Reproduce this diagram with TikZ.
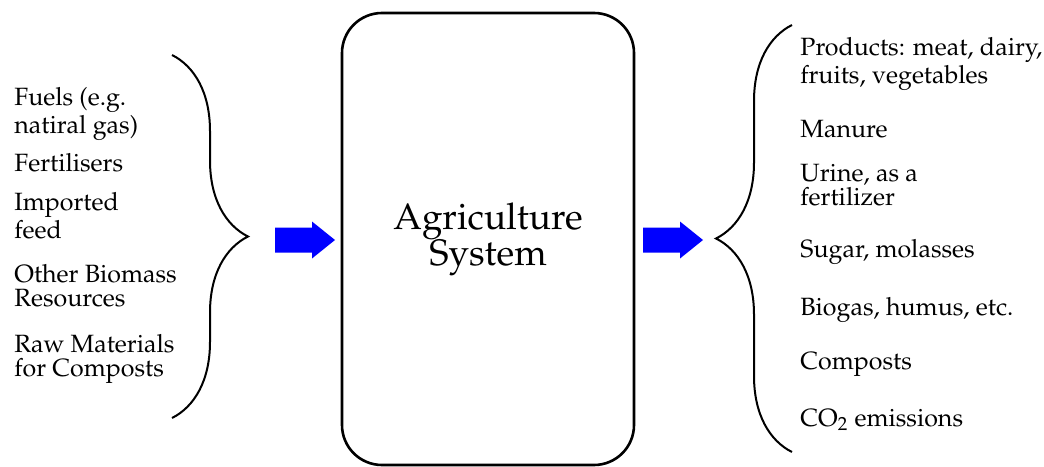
\documentclass[tikz,border=0pt]{standalone}
\IfFileExists{mathpazo.sty}{\usepackage[T1]{fontenc}\usepackage{mathpazo}}
  {\usepackage{fontspec}\setmainfont{Liberation Serif}}
\usetikzlibrary{decorations.pathreplacing}

\newcommand\blockarrow[1]{%
  \fill[blue] (#1) ++(0,-12.5) -- ++(37,0) -- ++(0,-6) -- ++(23,18.5)
    -- ++(-23,18.5) -- ++(0,-6) -- ++(-37,0) -- cycle;}

\begin{document}
\begin{tikzpicture}[x=0.5pt,y=-0.5pt,
  item/.style={anchor=base west,align=left,inner sep=0pt,
    font=\fontsize{12.5}{11.6}\selectfont},
  sysbox/.style={draw,line width=1.3pt,rounded corners=20pt,
    minimum width=146pt,minimum height=226pt,align=center,
    font=\fontsize{18.4}{18}\selectfont},
  curly/.style={decorate,line width=1pt,
    decoration={brace,amplitude=38pt}}]
\useasboundingbox (0,0) rectangle (1044,466);

\node[sysbox] (sys) at (488,239) {Agriculture\\System};

% inputs (base = last line)
\node[item] (in1) at (14,133) {Fuels (e.g.\\natiral gas)};
\node[item] (in2) at (14,171) {Fertilisers};
\node[item] (in3) at (14,238) {Imported\\feed};
\node[item] (in4) at (14,306) {Other Biomass\\Resources};
\node[item] (in5) at (14,376) {Raw Materials\\for Composts};
\draw[curly] (172,55) -- (172,418);

% outputs
\node[item] (out1) at (800,83) {Products: meat, dairy,\\fruits, vegetables};
\node[item] (out2) at (800,137) {Manure};
\node[item] (out3) at (800,205) {Urine, as a\\fertilizer};
\node[item] (out4) at (800,257) {Sugar, molasses};
\node[item] (out5) at (800,315) {Biogas, humus, etc.};
\node[item] (out6) at (800,369) {Composts};
\node[item] (out7) at (800,426) {CO\textsubscript{2} emissions};
\draw[curly] (792,452) -- (792,25);

\coordinate (inarr) at (275,240);
\coordinate (outarr) at (643,240);
\blockarrow{inarr}
\blockarrow{outarr}
\end{tikzpicture}
\end{document}
